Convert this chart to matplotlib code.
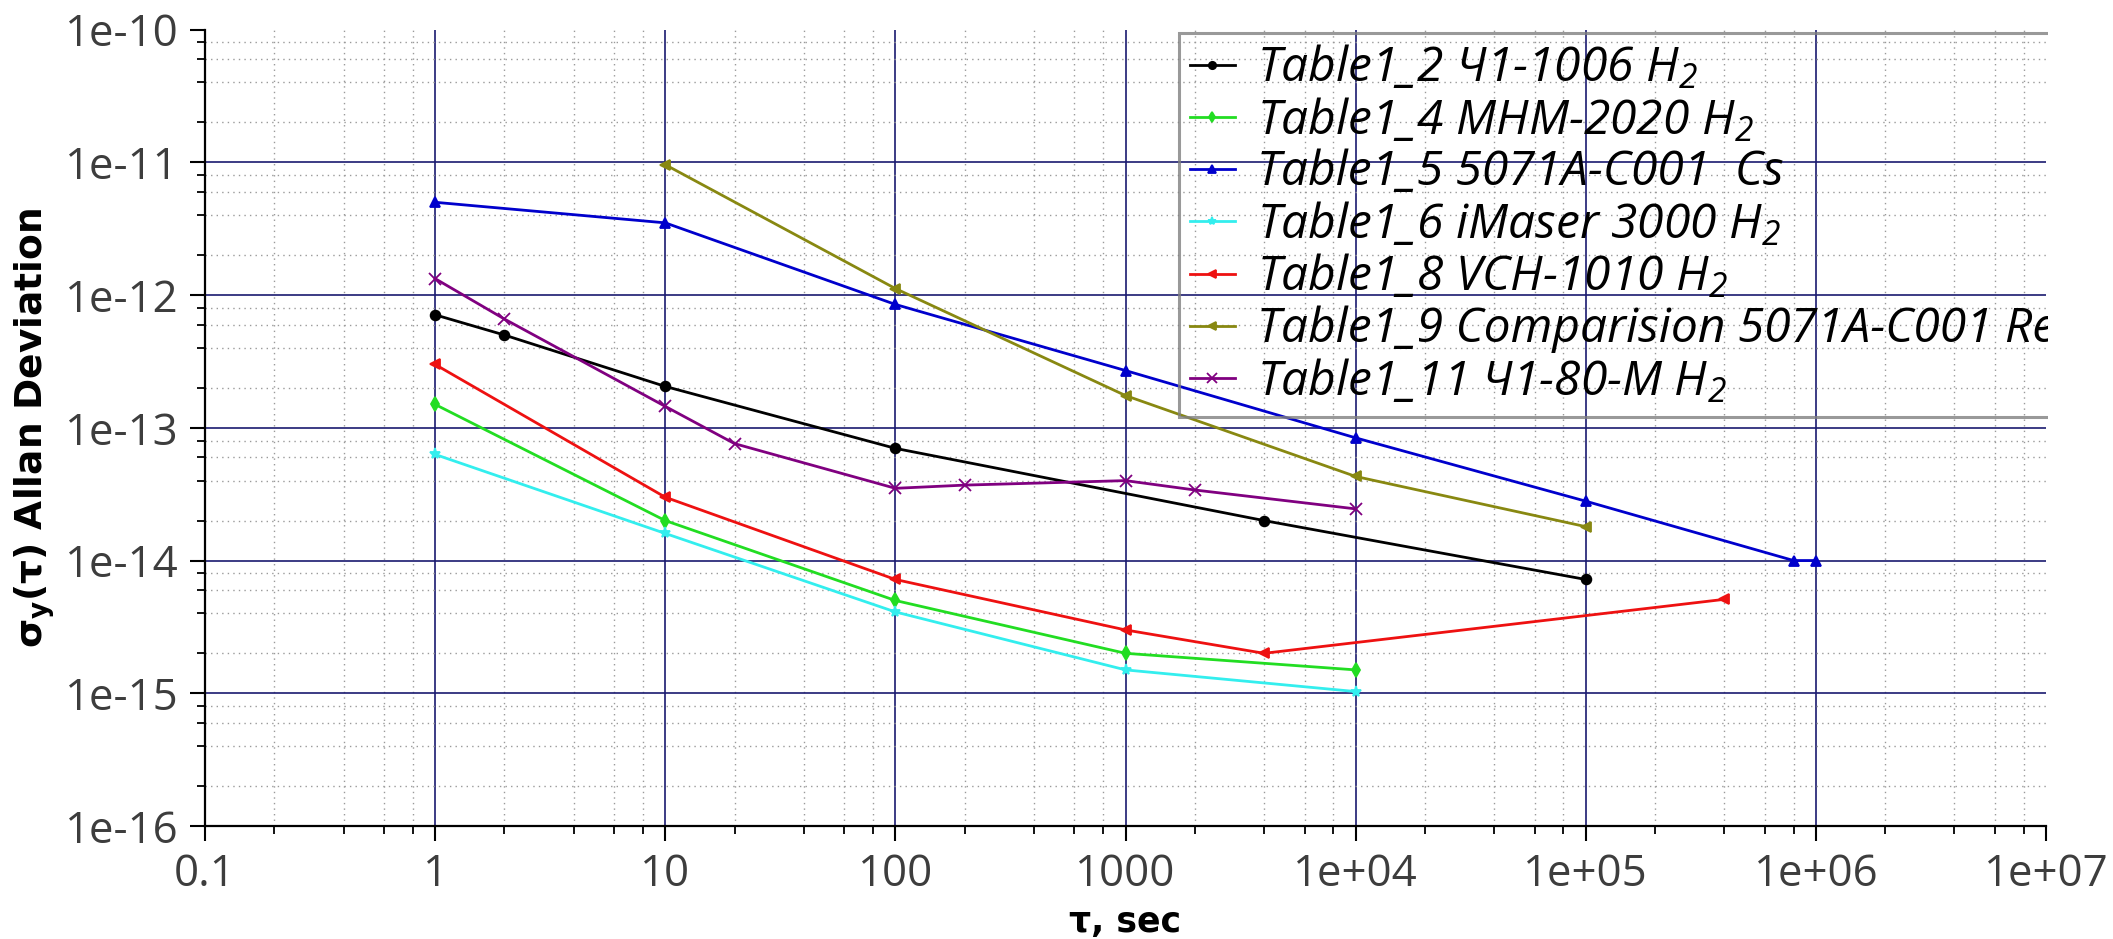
import numpy as np
import matplotlib
matplotlib.use("Agg")
import matplotlib.pyplot as plt
from matplotlib.patches import Rectangle
from matplotlib.ticker import LogLocator, FuncFormatter, NullFormatter

# -------- DATA --------
TAU_2 = [1, 2, 10, 100, 4000, 1e5]
ADEV_2 = [7.1e-13, 5.0e-13, 2.05e-13, 7.0e-14, 2.0e-14, 7.2e-15]

TAU_4 = [1, 10, 100, 1000, 1e4]
ADEV_4 = [1.5e-13, 2.0e-14, 5.0e-15, 2.0e-15, 1.5e-15]

TAU_5 = [1, 10, 100, 1000, 1e4, 1e5, 8e5, 1e6]
ADEV_5 = [5.0e-12, 3.5e-12, 8.5e-13, 2.7e-13, 8.4e-14, 2.8e-14, 1.0e-14, 1.0e-14]

TAU_6 = [1, 10, 100, 1000, 1e4]
ADEV_6 = [6.3e-14, 1.6e-14, 4.1e-15, 1.5e-15, 1.03e-15]

TAU_8 = [1, 10, 100, 1000, 4000, 4e5]
ADEV_8 = [3.0e-13, 3.0e-14, 7.2e-15, 3.0e-15, 2.0e-15, 5.1e-15]

TAU_9 = [10, 100, 1000, 1e4, 1e5]
ADEV_9 = [9.6e-12, 1.12e-12, 1.75e-13, 4.3e-14, 1.8e-14]

TAU_11 = [1, 2, 10, 20, 100, 200, 1000, 2000, 1e4]
ADEV_11 = [1.33e-12, 6.6e-13, 1.45e-13, 7.6e-14, 3.5e-14, 3.7e-14, 4.0e-14, 3.4e-14, 2.45e-14]

LABELS = [
    "Table1_2 Ч1-1006 H$_2$",
    "Table1_4 МНМ-2020 H$_2$",
    "Table1_5 5071A-C001  Cs",
    "Table1_6 iMaser 3000 H$_2$",
    "Table1_8 VCH-1010 H$_2$",
    "Table1_9 Comparision 5071A-C001 Ref",
    "Table1_11 Ч1-80-М H$_2$",
]
# ---------------------------------------------

plt.rcParams["mathtext.fontset"] = "custom"
plt.rcParams["mathtext.rm"] = "Open Sans:italic"
plt.rcParams["mathtext.it"] = "Open Sans:italic"
plt.rcParams["mathtext.bf"] = "DejaVu Sans:bold"

W, H = 2113, 939
fig = plt.figure(figsize=(W / 100, H / 100), dpi=100)
ax = fig.add_axes([205 / W, 1 - 826 / H, (2046 - 205) / W, (826 - 29.6) / H])

series = [
    (TAU_2, ADEV_2, "black", "o", 7),
    (TAU_4, ADEV_4, "#22dd22", "d", 7),
    (TAU_5, ADEV_5, "#0000cc", "^", 7),
    (TAU_6, ADEV_6, "#33eeee", "*", 8),
    (TAU_8, ADEV_8, "#ee1111", "<", 7),
    (TAU_9, ADEV_9, "#888811", "<", 7),
    (TAU_11, ADEV_11, "#800080", "x", 9),
]
for (x, y, c, m, ms), lab in zip(series, LABELS):
    ax.plot(x, y, color=c, marker=m, markersize=ms, lw=2.0, label=lab,
            markeredgewidth=1.3, zorder=3)

ax.set_xscale("log")
ax.set_yscale("log")
ax.set_xlim(0.1, 1e7)
ax.set_ylim(1e-16, 1e-10)

# minor marks only at 2, 4, 6, 8 in the original
ax.xaxis.set_major_locator(LogLocator(base=10, numticks=20))
ax.yaxis.set_major_locator(LogLocator(base=10, numticks=20))
ax.xaxis.set_minor_locator(LogLocator(base=10, subs=[2, 4, 6, 8], numticks=100))
ax.yaxis.set_minor_locator(LogLocator(base=10, subs=[2, 4, 6, 8], numticks=100))


def xfmt(v, pos):
    if v < 1e4:
        return f"{v:g}"
    return f"{v:.0e}"


ax.xaxis.set_major_formatter(FuncFormatter(xfmt))
ax.yaxis.set_major_formatter(FuncFormatter(lambda v, p: f"{v:.0e}"))
ax.xaxis.set_minor_formatter(NullFormatter())
ax.yaxis.set_minor_formatter(NullFormatter())

ax.grid(True, which="major", color="#1a1a70", lw=1.2, zorder=1)
ax.grid(True, which="minor", color="#9a9a9a", lw=1.0, linestyle=(0, (1, 3)), zorder=1)

for s in ["top", "right"]:
    ax.spines[s].set_visible(False)
for s in ["left", "bottom"]:
    ax.spines[s].set_linewidth(1.6)
    ax.spines[s].set_color("black")

ax.tick_params(which="major", direction="out", length=11, width=1.5, color="black",
               labelsize=31.5, labelcolor="#3d3d3d", pad=8)
ax.tick_params(which="minor", direction="out", length=6, width=1.3, color="black")
for t in ax.get_xticklabels() + ax.get_yticklabels():
    t.set_fontfamily(["Open Sans", "DejaVu Sans"])

ax.set_xlabel("τ, sec", fontsize=25, fontweight="bold",
              fontfamily=["DejaVu Sans"], labelpad=6)
ax.set_ylabel("σ$_\\mathbf{y}$(τ) Allan Deviation", fontsize=27, fontweight="bold",
              fontfamily=["DejaVu Sans"], labelpad=6)

leg = ax.legend(loc="upper left", bbox_to_anchor=(1179 / W, 1 - 33 / H),
                bbox_transform=fig.transFigure, borderaxespad=0,
                prop={"family": ["Open Sans", "DejaVu Sans"], "style": "italic", "size": 34.5},
                frameon=True, fancybox=False, edgecolor="#808080",
                handlelength=0.95, handletextpad=0.45, labelspacing=0.08,
                borderpad=0.22, markerscale=0.75)
leg.get_frame().set_facecolor("none")
leg.get_frame().set_linewidth(2.2)
leg.set_zorder(5)

# no grid line along the top and right limits in the original
fig.canvas.draw()
for t in ax.yaxis.get_major_ticks():
    if np.isclose(t.get_loc(), 1e-10, rtol=1e-3, atol=0):
        t.gridline.set_visible(False)
for t in ax.xaxis.get_major_ticks():
    if np.isclose(t.get_loc(), 1e7, rtol=1e-3, atol=0):
        t.gridline.set_visible(False)

# the legend runs past the plot area; the original is clipped at the axis end
fig.patches.append(Rectangle((2048 / W, 1 - 826 / H), 1, 1, transform=fig.transFigure,
                             facecolor="white", edgecolor="none", zorder=10))

fig.savefig("out.png", dpi=100)
